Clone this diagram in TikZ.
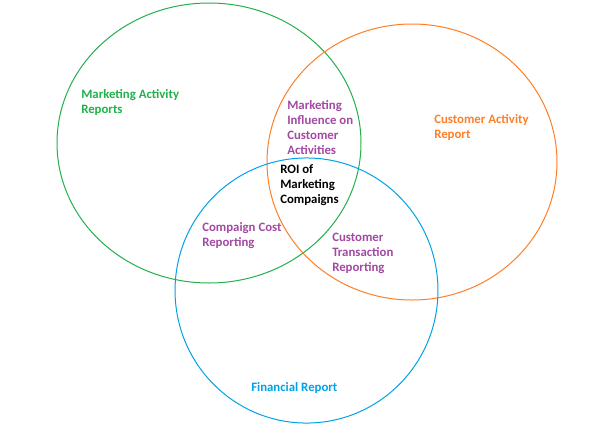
\documentclass[tikz,border=0pt]{standalone}
\usepackage{fontspec}
\setmainfont{Carlito}
\usetikzlibrary{positioning}
\definecolor{setgreen}{HTML}{22B14C}
\definecolor{setorange}{HTML}{FF7F27}
\definecolor{setblue}{HTML}{00A2E8}
\definecolor{setpurple}{HTML}{A349A4}

\begin{document}
\begin{tikzpicture}[
    x=0.75pt, y=-0.75pt,
    set line/.style={line width=0.75pt},
    set label/.style={anchor=west, align=left, inner sep=0pt, font=\fontsize{9.6}{11.25}\selectfont\bfseries},
]
    \useasboundingbox[fill=white] (0,0) rectangle (611,444);

    % The three report sets
    \draw[set line, setgreen] (209,143) ellipse [x radius=114pt, y radius=105pt];
    \draw[set line, setorange] (412,162) ellipse [x radius=108.75pt, y radius=103.5pt];
    \draw[set line, setblue] (306.5,290.5) ellipse [x radius=98.6pt, y radius=99.4pt];

    % Set names
    \node[set label, setgreen] (mktact) at (81,102) {Marketing Activity\\Reports};
    \node[set label, setorange] (custact) at (434,127) {Customer Activity\\Report};
    \node[set label, setblue] (finrep) at (251,388.5) {Financial Report};

    % Overlaps
    \node[set label, setpurple] (influence) at (287,128) {Marketing\\Influence on\\Customer\\Activities};
    \node[set label, setpurple] (costrep) at (202,236) {Compaign Cost\\Reporting};
    \node[set label, setpurple] (transrep) at (332,253.5) {Customer\\Transaction\\Reporting};
    \node[set label, black] (roi) at (280,185.5) {ROI of\\Marketing\\Compaigns};
\end{tikzpicture}
\end{document}
